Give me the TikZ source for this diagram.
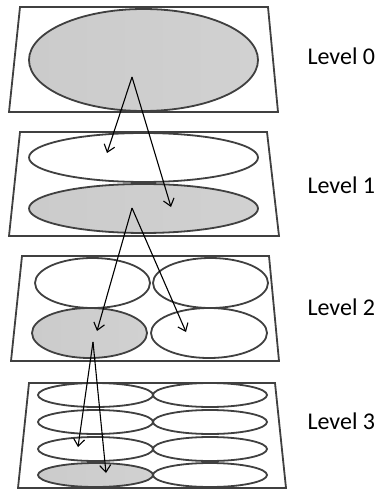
\documentclass[tikz,border=0pt]{standalone}
\usepackage{fontspec}
\setmainfont{Carlito}
\usetikzlibrary{shapes.geometric,arrows.meta}
\definecolor{edgegray}{HTML}{404040}
\definecolor{cellgray}{HTML}{BEBEBE}
\tikzset{
  plane/.style={draw=edgegray, line width=1.8pt, fill=white},
  cell/.style={ellipse, draw=edgegray, line width=1.8pt, fill=white, inner sep=0pt},
  hit/.style={cell, left color=cellgray!80, right color=cellgray!110!black, shading angle=90},
  jump/.style={-{Straight Barb[length=7pt,width=11pt,line width=1.1pt]}, line width=1.1pt, black},
  levellabel/.style={anchor=west, font=\fontsize{24}{28}\selectfont}
}
\begin{document}
\begin{tikzpicture}[x=1pt,y=-1pt]
    \useasboundingbox (0,0) rectangle (377,489);
    % level 0
    \coordinate (P0a) at (20,7);
    \coordinate (P0b) at (268,7);
    \coordinate (P0c) at (278,112);
    \coordinate (P0d) at (9,112);
    \draw[plane] (P0a) -- (P0b) -- (P0c) -- (P0d) -- cycle;
    \node[hit, minimum width=229, minimum height=102] (e0) at (143.5,60) {};
    % level 1
    \coordinate (P1a) at (20,132);
    \coordinate (P1b) at (267,132);
    \coordinate (P1c) at (279,236);
    \coordinate (P1d) at (9,236);
    \draw[plane] (P1a) -- (P1b) -- (P1c) -- (P1d) -- cycle;
    \node[cell, minimum width=229, minimum height=49] (e1a) at (143.5,157.5) {};
    \node[hit, minimum width=229, minimum height=49] (e1b) at (143.5,208.5) {};
    % level 2
    \coordinate (P2a) at (22,256);
    \coordinate (P2b) at (269,256);
    \coordinate (P2c) at (279,361);
    \coordinate (P2d) at (11,361);
    \draw[plane] (P2a) -- (P2b) -- (P2c) -- (P2d) -- cycle;
    \node[cell, minimum width=115, minimum height=50] (e2a) at (92.5,283) {};
    \node[cell, minimum width=115, minimum height=50] (e2b) at (210.5,283) {};
    \node[hit, minimum width=115, minimum height=50] (e2c) at (89.5,333) {};
    \node[cell, minimum width=116, minimum height=50] (e2d) at (209,333) {};
    % level 3
    \coordinate (P3a) at (29,383);
    \coordinate (P3b) at (275,383);
    \coordinate (P3c) at (286,488);
    \coordinate (P3d) at (18,488);
    \draw[plane] (P3a) -- (P3b) -- (P3c) -- (P3d) -- cycle;
    \foreach \y/\n in {395/1,422/2,449/3} {
      \node[cell, minimum width=115, minimum height=24] (e3l\n) at (95.5,\y) {};
      \node[cell, minimum width=114, minimum height=24] (e3r\n) at (210,\y) {};
    }
    \node[hit, minimum width=115, minimum height=24] (e3l4) at (95.5,475) {};
    \node[cell, minimum width=114, minimum height=24] (e3r4) at (210,475) {};
    % search arrows
    \coordinate (s0) at (132,77);
    \coordinate (t1a) at (107,153);
    \coordinate (t1b) at (171,207);
    \coordinate (s1) at (132,208);
    \coordinate (t2a) at (97,331);
    \coordinate (t2b) at (186,332);
    \coordinate (s2) at (93,342);
    \coordinate (t3a) at (78,447);
    \coordinate (t3b) at (106,473);
    \draw[jump] (s0) -- (t1a);
    \draw[jump] (s0) -- (t1b);
    \draw[jump] (s1) -- (t2a);
    \draw[jump] (s1) -- (t2b);
    \draw[jump] (s2) -- (t3a);
    \draw[jump] (s2) -- (t3b);
    % labels
    \node[levellabel] (L0) at (304,56) {Level 0};
    \node[levellabel] (L1) at (304,185) {Level 1};
    \node[levellabel] (L2) at (304,307) {Level 2};
    \node[levellabel] (L3) at (304,421) {Level 3};
\end{tikzpicture}
\end{document}
